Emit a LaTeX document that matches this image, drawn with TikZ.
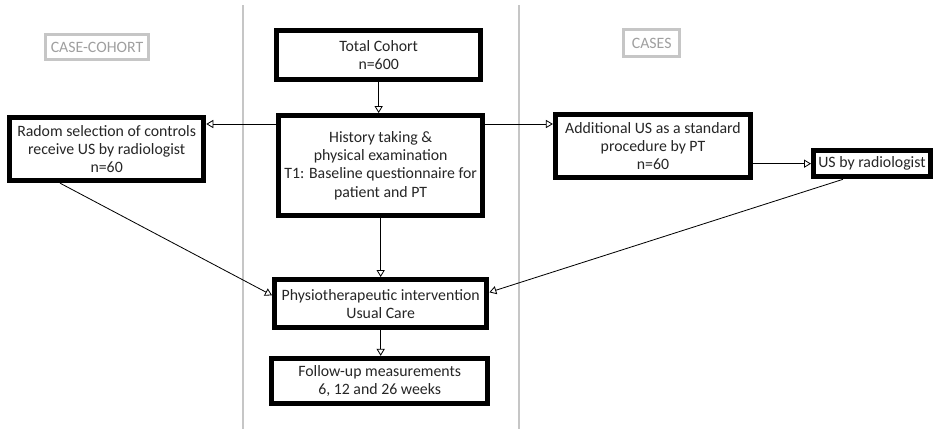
\documentclass[tikz,border=0pt]{standalone}
\usepackage{fontspec}
\setmainfont{Carlito}
\usepackage{xcolor}
\usepackage{tikz}
\usetikzlibrary{arrows.meta,positioning}

\begin{document}
\begin{tikzpicture}[
			font=\fontsize{13.5}{15.5}\selectfont,
			>={Triangle[open, length=6pt, width=7pt]},
			box/.style={draw, line width=4.5pt, align=center, inner sep=2pt, fill=white, text=black!85},
			grouptag/.style={draw=gray!45, line width=2.3pt, align=center, text=gray!75, inner sep=1pt},
			divider/.style={draw=gray!45, line width=2.4pt},
			flow/.style={->, line width=0.7pt}
			]
			\useasboundingbox (0,0) rectangle (28.05,-12.87);
			% columns
			\coordinate (lefttop) at (7.29,-0.15);
			\coordinate (righttop) at (15.57,-0.15);
			\draw[divider] (lefttop) -- (7.29,-12.87);
			\draw[divider] (righttop) -- (15.57,-12.87);
			
			\node[grouptag, minimum width=3.09cm, minimum height=0.75cm] (casecohort) at (2.91,-1.41) {CASE-COHORT};
			\node[grouptag, minimum width=1.68cm, minimum height=0.81cm] (cases) at (19.55,-1.29) {CASES};
			
			\node[box, minimum width=6.12cm, minimum height=1.47cm] (cohort) at (11.36,-1.65) {Total Cohort\\n=600};
			\node[box, minimum width=6.12cm, minimum height=3.0cm] (history) at (11.42,-4.97) {History taking \&\\physical examination\\T1: Baseline questionnaire for\\patient and PT};
			\node[box, minimum width=5.82cm, minimum height=1.89cm] (control) at (3.20,-4.47) {Radom selection of controls\\receive US by radiologist\\n=60};
			\node[box, minimum width=5.85cm, minimum height=1.89cm] (addus) at (19.59,-4.38) {Additional US as a standard\\procedure by PT\\n=60};
			\node[box, minimum width=3.5cm, minimum height=0.78cm] (usrad) at (26.16,-4.91) {US by radiologist};
			\node[box, minimum width=6.36cm, minimum height=1.44cm] (physio) at (11.42,-9.11) {Physiotherapeutic intervention\\Usual Care};
			\node[box, minimum width=6.48cm, minimum height=1.35cm] (followup) at (11.39,-11.43) {Follow-up measurements\\6, 12 and 26 weeks};
			
			\draw[flow] (cohort.south) -- (cohort.south |- history.north);
			\draw[flow] ([yshift=1.25cm]history.west) -- ([yshift=1.25cm]history.west -| control.east);
			\draw[flow] ([yshift=1.25cm]history.east) -- ([yshift=1.25cm]history.east -| addus.west);
			\draw[flow] (addus.east |- usrad.west) -- (usrad.west);
			\draw[flow] (history.south) -- (history.south |- physio.north);
			\draw[flow] ([xshift=-1.4cm]control.south) -- ([yshift=0.25cm]physio.west);
			\draw[flow] ([xshift=-0.87cm]usrad.south) -- ([yshift=0.34cm]physio.east);
			\draw[flow] (physio.south) -- (physio.south |- followup.north);
		\end{tikzpicture}
\end{document}
